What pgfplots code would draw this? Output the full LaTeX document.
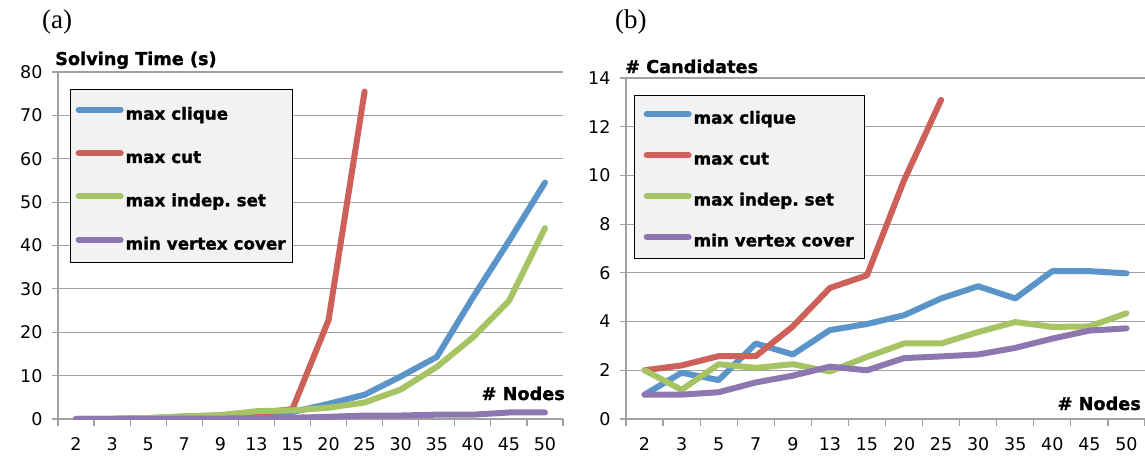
\documentclass[border=0pt]{standalone}
\usepackage{fontspec}
\setmainfont{DejaVu Sans}
\newfontfamily\seriffont{Liberation Serif}
\newfontface\heavyfont[FakeBold=1.2]{DejaVu Sans Bold}
\usepackage{pgfplots}
\pgfplotsset{compat=1.18}
\definecolor{cblue}{RGB}{91,148,200}
\definecolor{cred}{RGB}{205,96,88}
\definecolor{cgreen}{RGB}{166,196,100}
\definecolor{cpurple}{RGB}{141,119,176}
\definecolor{gridgray}{RGB}{160,160,160}
\definecolor{legfill}{RGB}{242,242,242}
\newcommand\tickfont{\fontsize{17.5bp}{20bp}\selectfont}
\newcommand\lblfont{\heavyfont\fontsize{17.7bp}{20bp}\selectfont}
\newcommand\legfont{\heavyfont\fontsize{16.8bp}{20bp}\selectfont}
\pgfplotsset{
  mystyle/.style={
    scale only axis,
    xmin=-0.5, xmax=13.5,
    ymin=0,
    xtick={0,...,13},
    xticklabels={2,3,5,7,9,13,15,20,25,30,35,40,45,50},
    minor xtick={-0.5,0.5,...,13.5},
    tick align=outside,
    major x tick style={draw=none},
    minor x tick style={draw=gridgray, line width=1.2bp},
    minor tick length=7bp,
    major tick length=6bp,
    y tick style={draw=gridgray, line width=1.2bp},
    ymajorgrids,
    grid style={draw=gridgray, line width=1.2bp},
    axis x line*=bottom, axis y line*=left,
    axis line style={draw=gridgray, line width=1.2bp, -},
    tick label style={font=\tickfont},
    xticklabel style={yshift=-9bp},
    yticklabel style={xshift=-6bp},
    /pgf/number format/assume math mode=true,
    every axis plot/.append style={line width=6bp, line join=round, line cap=round, mark=none},
    legend cell align=left,
    legend image code/.code={
      \path[draw=none,fill=none] (0bp,0bp) -- (41bp,0bp);
      \draw[##1] (3bp,1.5bp) -- (45bp,1.5bp);
    },
    legend style={anchor=north west, fill=legfill, draw=black, line width=1.3bp,
      font=\legfont, column sep=0bp},
  }
}
\begin{document}
\begin{tikzpicture}
\useasboundingbox (0,0) rectangle (1145bp,-461bp);
% panel (a)
\begin{axis}[mystyle,
  at={(58bp,-419bp)}, anchor=south west,
  width=505bp, height=347bp,
  ymax=80, ytick={0,10,...,80},
  legend style={at={(0.0238,0.951)}, inner xsep=5bp, inner ysep=9bp, row sep=18.3bp,
    nodes={inner xsep=2bp, inner ysep=0bp, text height=21bp, text depth=4bp}},
]
\addplot[cblue] coordinates {(0,0) (1,0.05) (2,0.2) (3,0.6) (4,0.8) (5,1.5) (6,1.6) (7,3.5) (8,5.6) (9,9.8) (10,14.3) (11,28) (12,41) (13,54.5)};
\addplot[cred] coordinates {(0,0) (1,0.05) (2,0.1) (3,0.4) (4,0.8) (5,1.3) (6,2.3) (7,22.8) (8,75.5)};
\addplot[cgreen] coordinates {(0,0) (1,0.05) (2,0.2) (3,0.6) (4,0.9) (5,1.8) (6,2.0) (7,2.6) (8,3.8) (9,6.8) (10,12) (11,18.8) (12,27.2) (13,44)};
\addplot[cpurple] coordinates {(0,0) (1,0) (2,0) (3,0.1) (4,0.1) (5,0.2) (6,0.3) (7,0.5) (8,0.8) (9,0.8) (10,1.0) (11,1.0) (12,1.5) (13,1.5)};
\legend{max clique, max cut, max indep.\ set, min vertex cover}
\end{axis}
% panel (b)
\begin{axis}[mystyle,
  at={(626bp,-419bp)}, anchor=south west,
  width=519bp, height=341bp,
  ymax=14, ytick={0,2,...,14},
  legend style={at={(0.0154,0.950)}, inner xsep=9bp, inner ysep=9bp, row sep=18.9bp,
    nodes={inner xsep=2bp, inner ysep=0bp, text height=19bp, text depth=3bp}},
]
\addplot[cblue] coordinates {(0,1.0) (1,1.9) (2,1.6) (3,3.1) (4,2.65) (5,3.65) (6,3.9) (7,4.26) (8,4.95) (9,5.45) (10,4.95) (11,6.07) (12,6.07) (13,5.98)};
\addplot[cred] coordinates {(0,2.0) (1,2.2) (2,2.58) (3,2.58) (4,3.8) (5,5.38) (6,5.9) (7,9.8) (8,13.1)};
\addplot[cgreen] coordinates {(0,2.0) (1,1.2) (2,2.25) (3,2.1) (4,2.25) (5,1.95) (6,2.55) (7,3.1) (8,3.1) (9,3.57) (10,3.98) (11,3.78) (12,3.8) (13,4.34)};
\addplot[cpurple] coordinates {(0,1.0) (1,1.0) (2,1.1) (3,1.5) (4,1.78) (5,2.15) (6,2.0) (7,2.5) (8,2.57) (9,2.65) (10,2.92) (11,3.3) (12,3.63) (13,3.72)};
\legend{max clique, max cut, max indep.\ set, min vertex cover}
\end{axis}
% texts
\node[anchor=base west, inner sep=0pt, font=\seriffont\fontsize{27bp}{29bp}\selectfont] at (42bp,-28bp) {(a)};
\node[anchor=base west, inner sep=0pt, font=\seriffont\fontsize{27bp}{29bp}\selectfont] at (615bp,-28bp) {(b)};
\node[anchor=base west, inner sep=0pt, font=\lblfont] at (55bp,-65bp) {Solving Time (s)};
\node[anchor=base west, inner sep=0pt, font=\lblfont] at (625bp,-73bp) {\# Candidates};
\node[anchor=base east, inner sep=0pt, font=\lblfont] at (565bp,-400bp) {\# Nodes};
\node[anchor=base east, inner sep=0pt, font=\lblfont] at (1141bp,-410bp) {\# Nodes};
\end{tikzpicture}
\end{document}
